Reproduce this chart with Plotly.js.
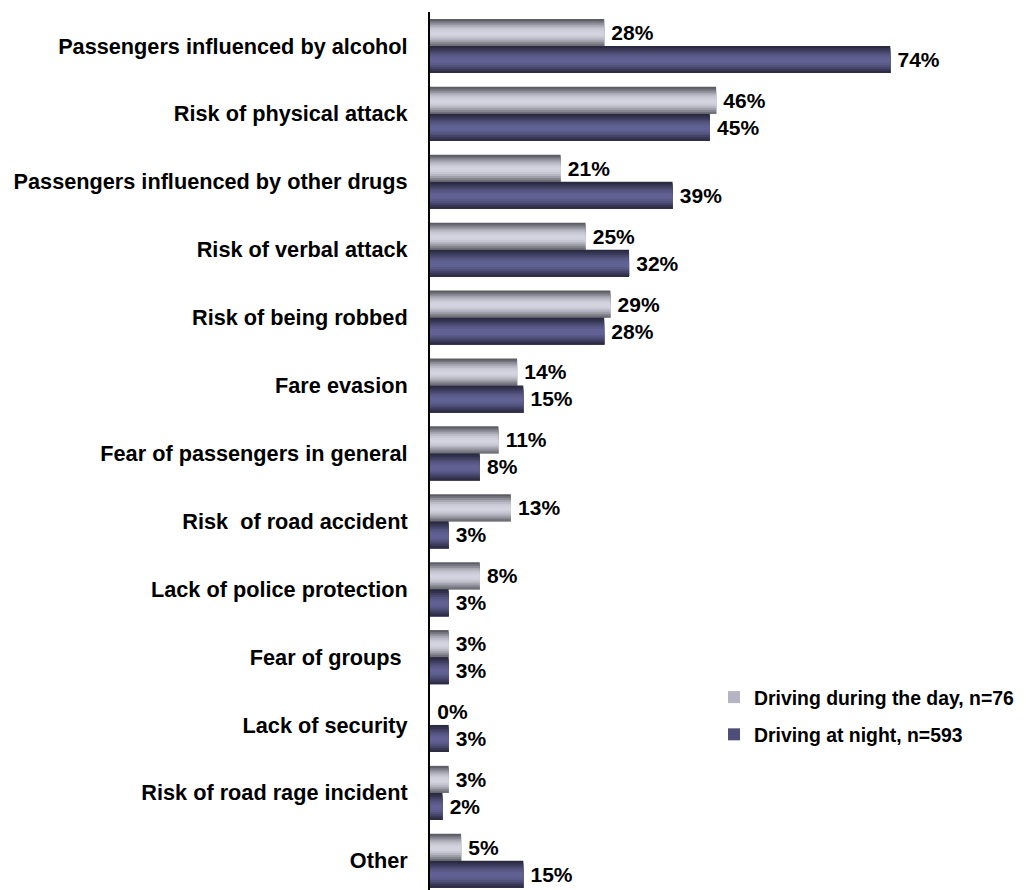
<!DOCTYPE html>
<html>
<head>
<meta charset="utf-8">
<script src="https://cdn.plot.ly/plotly-3.0.1.min.js"></script>
<style>
html,body{margin:0;padding:0;background:#fff;}
#chart{width:1026px;height:890px;}
</style>
</head>
<body>
<div id="chart"></div>
<script>
// ---- data ----
const categories = [
  "Passengers influenced by alcohol",
  "Risk of physical attack",
  "Passengers influenced by other drugs",
  "Risk of verbal attack",
  "Risk of being robbed",
  "Fare evasion",
  "Fear of passengers in general",
  "Risk\u00a0 of road accident",
  "Lack of police protection",
  "Fear of groups\u00a0",
  "Lack of security",
  "Risk of road rage incident",
  "Other"
];
const dayValues   = [28, 46, 21, 25, 29, 14, 11, 13, 8, 3, 0, 3, 5];
const nightValues = [74, 45, 39, 32, 28, 15,  8,  3, 3, 3, 3, 2, 15];
const seriesNames = ["Driving during the day, n=76", "Driving at night, n=593"];

// ---- styles ----
const FONT = "Liberation Sans, Arial, sans-serif";
const BAR = 0.3977; // bar thickness in category units
const dayColors = ["#5c5c64","#74747e","#8f8f9a","#a8a8b5","#bcbcc9","#c9c9d6","#d1d1de","#d4d4e1","#d1d1de","#c7c7d4","#b6b6c3","#a0a0ac","#87878f","#707078"];
const nightColors = ["#2a2a40","#33334e","#3e3e60","#4a4a71","#54547f","#5b5b8a","#606092","#626296","#606092","#5a5a88","#50507a","#44446a","#383856","#2c2c44"];

function stripeTraces(values, name, colors, start, legendColor) {
  const n = colors.length, h = BAR / n, out = [];
  colors.forEach((c, k) => {
    out.push({
      type: "bar", orientation: "h",
      x: values, y: categories,
      offset: start + k * h,
      width: BAR - k * h,   // each stripe runs to the bar's far edge; later stripes cover it
      marker: {color: c, line: {width: 0}},
      name: name, legendgroup: name,
      showlegend: false, hoverinfo: "skip"
    });
  });
  // value labels (transparent full bars)
  out.push({
    type: "bar", orientation: "h",
    x: values, y: categories,
    offset: start, width: BAR,
    marker: {color: "rgba(0,0,0,0)", line: {width: 0}},
    text: values.map(v => "\u2009" + v + "%"),
    textposition: "outside",
    constraintext: "none",
    cliponaxis: false,
    textfont: {family: FONT, size: 21, color: "#000", weight: "bold"},
    name: name, legendgroup: name, showlegend: false, hoverinfo: "skip"
  });
  // legend entry
  out.push({
    type: "bar", orientation: "h",
    x: [null], y: [categories[0]],
    marker: {color: legendColor, line: {width: 0}},
    name: name, legendgroup: name, showlegend: true, hoverinfo: "skip"
  });
  return out;
}

const traces = [].concat(
  stripeTraces(dayValues, seriesNames[0], dayColors, -BAR, "#b4b4c2"),
  stripeTraces(nightValues, seriesNames[1], nightColors, 0, "#4e4e78")
);

const plotH = 890 - 12;
const catPx = 67.9;
const layout = {
  width: 1026, height: 890,
  margin: {l: 430, r: 0, t: 12, b: 0, pad: 0},
  paper_bgcolor: "#fff", plot_bgcolor: "#fff",
  barmode: "overlay",
  font: {family: FONT, color: "#000"},
  xaxis: {
    range: [0, 596 / 6.22],
    showgrid: false, zeroline: false, showticklabels: false, showline: false, ticks: ""
  },
  yaxis: {
    type: "category",
    range: [-0.5 + plotH / catPx, -0.5],
    showgrid: false, zeroline: false,
    showline: true, linecolor: "#000", linewidth: 2,
    ticks: "", ticklabelstandoff: 16,
    tickfont: {family: FONT, size: 21.7, color: "#000", weight: "bold"}
  },
  legend: {
    x: (714 - 430) / 596, xanchor: "left",
    y: (890 - 678) / plotH, yanchor: "top",
    bgcolor: "rgba(0,0,0,0)",
    borderwidth: 0,
    font: {family: FONT, size: 19.4, color: "#000", weight: "bold"},
    tracegroupgap: 9,
    traceorder: "grouped"
  },
  showlegend: true
};

Plotly.newPlot("chart", traces, layout, {displayModeBar: false, staticPlot: true});
</script>
</body>
</html>
